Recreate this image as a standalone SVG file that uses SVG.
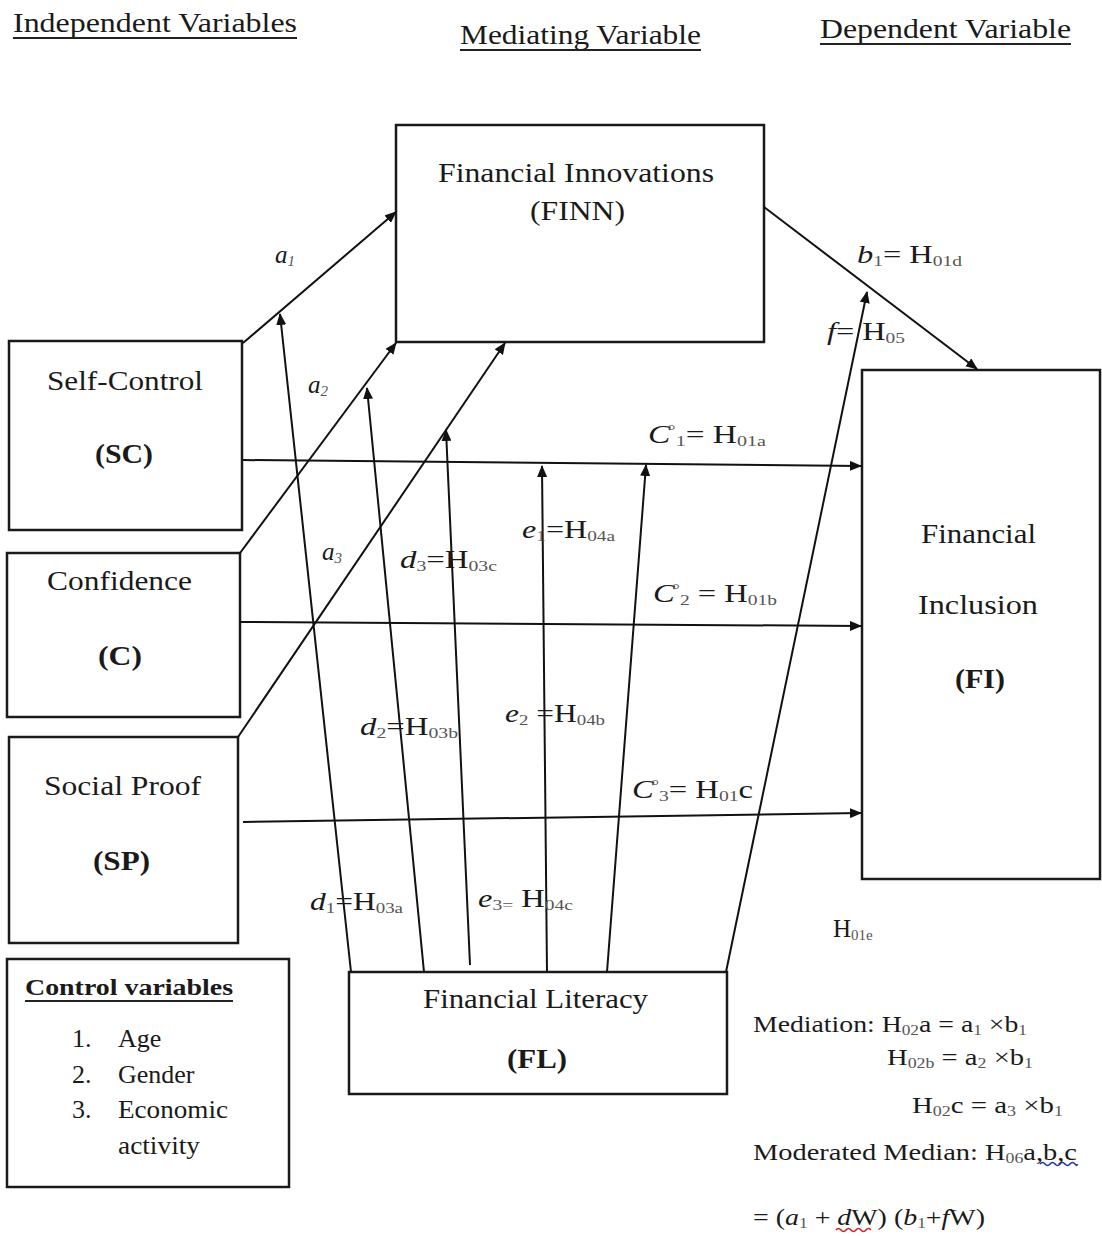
<svg xmlns="http://www.w3.org/2000/svg" width="1102" height="1236" viewBox="0 0 1102 1236">
<style>
text{font-family:"Liberation Serif","Times New Roman",serif;fill:#1a1a1a}
.h{font-size:27px}
.n{font-size:27px}
.b{font-weight:bold}
.e{font-size:25px}
.m{font-size:24px}
.c{font-size:26px}
.i{font-style:italic}
.sb{font-size:15px;fill:#555}
.ln{stroke:#111;stroke-width:2;fill:none}
.ul{stroke:#222;stroke-width:2}
.box{fill:#fff;stroke:#1a1a1a;stroke-width:2.5}
</style>
<defs>
<marker id="ah" markerWidth="12" markerHeight="10" refX="11" refY="5" orient="auto" markerUnits="userSpaceOnUse">
<path d="M0,0 L12,5 L0,10 z" fill="#111"/>
</marker>
</defs>
<rect width="1102" height="1236" fill="#fff"/>

<g id="headings">
<text class="h" x="13" y="32" textLength="284" lengthAdjust="spacingAndGlyphs">Independent Variables</text>
<line class="ul" x1="13" y1="38" x2="297" y2="38"/>
<text class="h" x="460" y="44" textLength="241" lengthAdjust="spacingAndGlyphs">Mediating Variable</text>
<line class="ul" x1="460" y1="50" x2="701" y2="50"/>
<text class="h" x="820" y="38" textLength="251" lengthAdjust="spacingAndGlyphs">Dependent Variable</text>
<line class="ul" x1="820" y1="44" x2="1071" y2="44"/>
</g>

<g id="node-finn">
<rect class="box" x="396" y="125" width="368" height="217"/>
<text class="n" x="438" y="182" textLength="276" lengthAdjust="spacingAndGlyphs">Financial Innovations</text>
<text class="n" x="530" y="220" textLength="95" lengthAdjust="spacingAndGlyphs">(FINN)</text>
</g>
<g id="node-sc">
<rect class="box" x="9" y="341" width="233" height="189"/>
<text class="n" x="47" y="390" textLength="156" lengthAdjust="spacingAndGlyphs">Self-Control</text>
<text class="n b" x="95" y="463" textLength="58" lengthAdjust="spacingAndGlyphs">(SC)</text>
</g>
<g id="node-c">
<rect class="box" x="7" y="553" width="233" height="164"/>
<text class="n" x="47" y="590" textLength="145" lengthAdjust="spacingAndGlyphs">Confidence</text>
<text class="n b" x="98" y="665" textLength="44" lengthAdjust="spacingAndGlyphs">(C)</text>
</g>
<g id="node-sp">
<rect class="box" x="9" y="737" width="229" height="206"/>
<text class="n" x="44" y="795" textLength="157" lengthAdjust="spacingAndGlyphs">Social Proof</text>
<text class="n b" x="93" y="870" textLength="57" lengthAdjust="spacingAndGlyphs">(SP)</text>
</g>
<g id="node-fi">
<rect class="box" x="862" y="370" width="238" height="509"/>
<text class="n" x="921" y="543" textLength="115" lengthAdjust="spacingAndGlyphs">Financial</text>
<text class="n" x="918" y="614" textLength="120" lengthAdjust="spacingAndGlyphs">Inclusion</text>
<text class="n b" x="955" y="688" textLength="50" lengthAdjust="spacingAndGlyphs">(FI)</text>
</g>
<g id="node-fl">
<rect class="box" x="349" y="972" width="378" height="122"/>
<text class="n" x="423" y="1008" textLength="225" lengthAdjust="spacingAndGlyphs">Financial Literacy</text>
<text class="n b" x="507" y="1068" textLength="60" lengthAdjust="spacingAndGlyphs">(FL)</text>
</g>
<g id="node-control">
<rect class="box" x="7" y="959" width="282" height="228"/>
<text class="m b" x="25" y="995" textLength="208" lengthAdjust="spacingAndGlyphs">Control variables</text>
<line class="ul" x1="25" y1="1001" x2="233" y2="1001"/>
<text class="c" x="72" y="1047">1.</text><text class="c" x="118" y="1047">Age</text>
<text class="c" x="72" y="1083">2.</text><text class="c" x="118" y="1083">Gender</text>
<text class="c" x="72" y="1118">3.</text><text class="c" x="118" y="1118" textLength="110" lengthAdjust="spacingAndGlyphs">Economic</text>
<text class="c" x="118" y="1154" textLength="82" lengthAdjust="spacingAndGlyphs">activity</text>
</g>

<g id="connectors">
<line class="ln" x1="243" y1="343" x2="396" y2="212" marker-end="url(#ah)"/>
<line class="ln" x1="240" y1="553" x2="396" y2="343" marker-end="url(#ah)"/>
<line class="ln" x1="238" y1="737" x2="505" y2="343" marker-end="url(#ah)"/>
<line class="ln" x1="764" y1="207" x2="977" y2="369" marker-end="url(#ah)"/>
<line class="ln" x1="243" y1="460" x2="861" y2="466" marker-end="url(#ah)"/>
<line class="ln" x1="240" y1="622" x2="861" y2="626" marker-end="url(#ah)"/>
<line class="ln" x1="243" y1="822" x2="861" y2="813" marker-end="url(#ah)"/>
<line class="ln" x1="351" y1="972" x2="280" y2="314" marker-end="url(#ah)"/>
<line class="ln" x1="424" y1="972" x2="367" y2="388" marker-end="url(#ah)"/>
<line class="ln" x1="470" y1="965" x2="446" y2="430" marker-end="url(#ah)"/>
<line class="ln" x1="547" y1="972" x2="542" y2="466" marker-end="url(#ah)"/>
<line class="ln" x1="607" y1="972" x2="646" y2="465" marker-end="url(#ah)"/>
<line class="ln" x1="726" y1="972" x2="867" y2="292" marker-end="url(#ah)"/>
</g>

<g id="labels">
<text class="e i" x="275" y="263">a<tspan class="sb" dy="3">1</tspan></text>
<text class="e i" x="308" y="393">a<tspan class="sb" dy="3">2</tspan></text>
<text class="e i" x="322" y="560">a<tspan class="sb" dy="3">3</tspan></text>
<text class="e" x="857" y="263" textLength="105" lengthAdjust="spacingAndGlyphs"><tspan class="i">b</tspan><tspan class="sb" dy="3">1</tspan><tspan dy="-3">= H</tspan><tspan class="sb" dy="3">01d</tspan></text>
<text class="e" x="827" y="340" textLength="78" lengthAdjust="spacingAndGlyphs"><tspan class="i">f</tspan>= H<tspan class="sb" dy="3">05</tspan></text>
<text class="e" x="648" y="443" textLength="118" lengthAdjust="spacingAndGlyphs"><tspan class="i">C</tspan><tspan class="sb" dx="-2" dy="-8">°</tspan><tspan class="sb" dy="11">1</tspan><tspan dy="-3">= H</tspan><tspan class="sb" dy="3">01a</tspan></text>
<text class="e" x="653" y="602" textLength="124" lengthAdjust="spacingAndGlyphs"><tspan class="i">C</tspan><tspan class="sb" dx="-2" dy="-8">°</tspan><tspan class="sb" dy="11">2</tspan><tspan dy="-3"> = H</tspan><tspan class="sb" dy="3">01b</tspan></text>
<text class="e" x="632" y="798" textLength="121" lengthAdjust="spacingAndGlyphs"><tspan class="i">C</tspan><tspan class="sb" dx="-2" dy="-8">°</tspan><tspan class="sb" dy="11">3</tspan><tspan dy="-3">= H</tspan><tspan class="sb" dy="3">01</tspan><tspan dy="-3">c</tspan></text>
<text class="e" x="310" y="910" textLength="93" lengthAdjust="spacingAndGlyphs"><tspan class="i">d</tspan><tspan class="sb" dy="3">1</tspan><tspan dy="-3">=H</tspan><tspan class="sb" dy="3">03a</tspan></text>
<text class="e" x="360" y="735" textLength="98" lengthAdjust="spacingAndGlyphs"><tspan class="i">d</tspan><tspan class="sb" dy="3">2</tspan><tspan dy="-3">=H</tspan><tspan class="sb" dy="3">03b</tspan></text>
<text class="e" x="400" y="568" textLength="97" lengthAdjust="spacingAndGlyphs"><tspan class="i">d</tspan><tspan class="sb" dy="3">3</tspan><tspan dy="-3">=H</tspan><tspan class="sb" dy="3">03c</tspan></text>
<text class="e" x="522" y="538" textLength="93" lengthAdjust="spacingAndGlyphs"><tspan class="i">e</tspan><tspan class="sb" dy="3">1</tspan><tspan dy="-3">=H</tspan><tspan class="sb" dy="3">04a</tspan></text>
<text class="e" x="505" y="722" textLength="100" lengthAdjust="spacingAndGlyphs"><tspan class="i">e</tspan><tspan class="sb" dy="3">2</tspan><tspan dy="-3"> =H</tspan><tspan class="sb" dy="3">04b</tspan></text>
<text class="e" x="478" y="907" textLength="95" lengthAdjust="spacingAndGlyphs"><tspan class="i">e</tspan><tspan class="sb" dy="3">3=</tspan><tspan dy="-3"> H</tspan><tspan class="sb" dy="3">04c</tspan></text>
<text class="e" x="833" y="937">H<tspan class="sb" dy="3">01e</tspan></text>
</g>

<g id="equations">
<text class="m" x="753" y="1032" textLength="274" lengthAdjust="spacingAndGlyphs">Mediation: H<tspan class="sb" dy="3">02</tspan><tspan dy="-3">a = a</tspan><tspan class="sb" dy="3">1</tspan><tspan dy="-3"> ×b</tspan><tspan class="sb" dy="3">1</tspan></text>
<text class="m" x="887" y="1065" textLength="146" lengthAdjust="spacingAndGlyphs">H<tspan class="sb" dy="3">02b</tspan><tspan dy="-3"> = a</tspan><tspan class="sb" dy="3">2</tspan><tspan dy="-3"> ×b</tspan><tspan class="sb" dy="3">1</tspan></text>
<text class="m" x="912" y="1113" textLength="151" lengthAdjust="spacingAndGlyphs">H<tspan class="sb" dy="3">02</tspan><tspan dy="-3">c = a</tspan><tspan class="sb" dy="3">3</tspan><tspan dy="-3"> ×b</tspan><tspan class="sb" dy="3">1</tspan></text>
<text class="m" x="753" y="1160" textLength="324" lengthAdjust="spacingAndGlyphs">Moderated  Median: H<tspan class="sb" dy="3">06</tspan><tspan dy="-3">a,b,c</tspan></text>
<text class="m" x="753" y="1225" textLength="232" lengthAdjust="spacingAndGlyphs">= (<tspan class="i">a</tspan><tspan class="sb" dy="3">1</tspan><tspan dy="-3"> + </tspan><tspan class="i">d</tspan>W) (<tspan class="i">b</tspan><tspan class="sb" dy="3">1</tspan><tspan dy="-3">+</tspan><tspan class="i">f</tspan>W)</text>
<path d="M1040,1164 q2.5,-3 5,0 t5,0 t5,0 t5,0 t5,0 t5,0 t5,0 t2,0" fill="none" stroke="#2233aa" stroke-width="1.6"/>
<path d="M836,1230 q2.5,-3 5,0 t5,0 t5,0 t5,0 t5,0 t5,0 t5,0" fill="none" stroke="#cc2222" stroke-width="1.6"/>
</g>
</svg>
